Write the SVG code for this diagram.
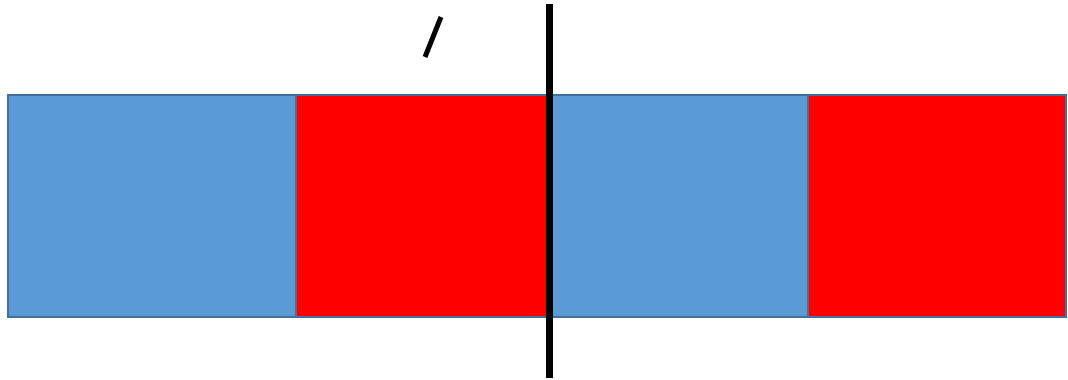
<svg xmlns="http://www.w3.org/2000/svg" width="1068" height="380" viewBox="0 0 1068 380">
<style>
.b{fill:#5B9BD5;stroke:#41719C;stroke-width:2}
.r{fill:#FF0000;stroke:#41719C;stroke-width:2}
.k{stroke:#000;fill:none}
</style>
<rect width="1068" height="380" fill="#fff"/>
<g id="cell1"><rect class="b" x="8" y="95" width="288" height="222"/></g>
<g id="cell2"><rect class="r" x="296" y="95" width="252" height="222"/></g>
<g id="cell3"><rect class="b" x="548" y="95" width="260" height="222"/></g>
<g id="cell4"><rect class="r" x="808" y="95" width="258" height="222"/></g>
<g id="connectors">
<line class="k" x1="549.5" y1="4" x2="549.5" y2="378" stroke-width="7"/>
<line class="k" x1="441" y1="17" x2="425" y2="57" stroke-width="5"/>
</g>
</svg>
